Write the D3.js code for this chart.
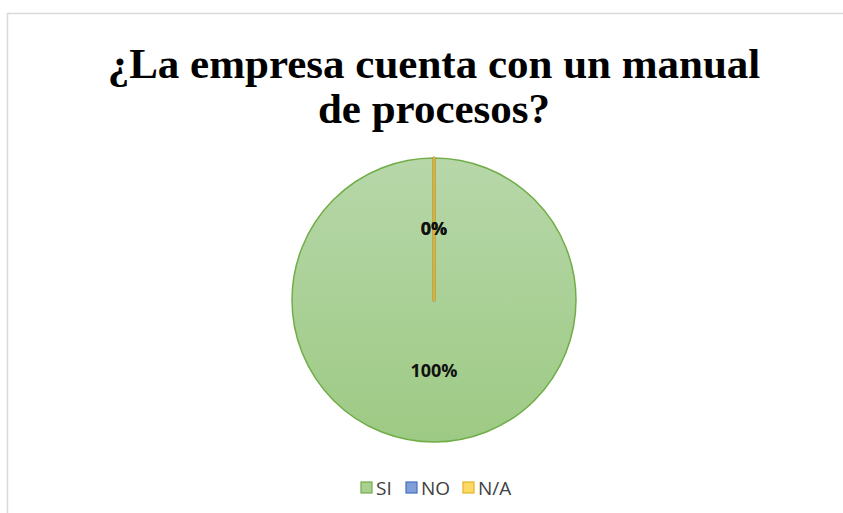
<!DOCTYPE html>
<html>
<head>
<meta charset="utf-8">
<script src="https://cdn.jsdelivr.net/npm/d3@7"></script>
<style>
  body { margin: 0; background: #fff; }
</style>
</head>
<body>
<div id="chart"></div>
<script>
var categories = ["SI", "NO", "N/A"];
var values = [100, 0, 0];
var labels = ["100%", "0%", "0%"];
var titleLines = ["¿La empresa cuenta con un manual", "de procesos?"];

var W = 843, H = 513;
var cx = 434, cy = 300, radius = 142;

var fills = ["url(#gSI)", "#7f9fd6", "#ffd966"];
var strokes = ["#70ad47", "#4472c4", "#e2b224"];

var svg = d3.select("#chart")
    .append("svg")
    .attr("width", W)
    .attr("height", H);

var defs = svg.append("defs");
var grad = defs.append("linearGradient")
    .attr("id", "gSI")
    .attr("x1", 0).attr("y1", 0)
    .attr("x2", 0).attr("y2", 1);
grad.append("stop").attr("offset", "0%").attr("stop-color", "#b7d7a9");
grad.append("stop").attr("offset", "100%").attr("stop-color", "#9dca84");

// chart frame
svg.append("rect")
    .attr("x", 7.5)
    .attr("y", 13.5)
    .attr("width", W)
    .attr("height", H)
    .attr("fill", "none")
    .attr("stroke", "#d9d9d9")
    .attr("stroke-width", 1.5);

// title
svg.append("g")
    .selectAll("text")
    .data(titleLines)
    .enter()
    .append("text")
    .attr("x", cx)
    .attr("y", function (d, i) { return 78 + i * 45; })
    .attr("text-anchor", "middle")
    .attr("font-family", "'Liberation Serif', 'Times New Roman', serif")
    .attr("font-weight", "bold")
    .attr("font-size", 43)
    .attr("fill", "#000")
    .text(function (d) { return d; });

var pie = d3.pie().sort(null).value(function (d) { return d; });
var arcs = pie(values);
var arc = d3.arc().innerRadius(0).outerRadius(radius);
var labelArc = d3.arc().innerRadius(radius * 0.5).outerRadius(radius * 0.5);

var pieG = svg.append("g")
    .attr("transform", "translate(" + cx + "," + cy + ")");

pieG.selectAll("path")
    .data(arcs)
    .enter()
    .append("path")
    .attr("d", arc)
    .attr("fill", function (d, i) { return fills[i]; })
    .attr("stroke", function (d, i) { return strokes[i]; })
    .attr("stroke-width", function (d, i) { return i === 0 ? 1.5 : 3; })
    .attr("stroke-linejoin", "round");

pieG.selectAll("text")
    .data(arcs)
    .enter()
    .append("text")
    .attr("transform", function (d) { return "translate(" + labelArc.centroid(d) + ")"; })
    .attr("dy", "0.35em")
    .attr("text-anchor", "middle")
    .attr("font-family", "'Open Sans', 'Liberation Sans', sans-serif")
    .attr("font-weight", "bold")
    .attr("font-size", 18)
    .attr("fill", "#111")
    .text(function (d, i) { return labels[i]; });

// legend
var legendX = [361, 406, 463];
var legend = svg.append("g")
    .selectAll("g")
    .data(categories)
    .enter()
    .append("g")
    .attr("transform", function (d, i) { return "translate(" + legendX[i] + ",482)"; });

legend.append("rect")
    .attr("width", 11)
    .attr("height", 11)
    .attr("fill", function (d, i) { return i === 0 ? "#a9d08e" : fills[i]; })
    .attr("stroke", function (d, i) { return strokes[i]; })
    .attr("stroke-width", 1.2);

legend.append("text")
    .attr("x", 15)
    .attr("y", 12.5)
    .attr("font-family", "'Open Sans', 'Liberation Sans', sans-serif")
    .attr("font-size", 19)
    .attr("fill", "#404040")
    .text(function (d) { return d; });
</script>
</body>
</html>
